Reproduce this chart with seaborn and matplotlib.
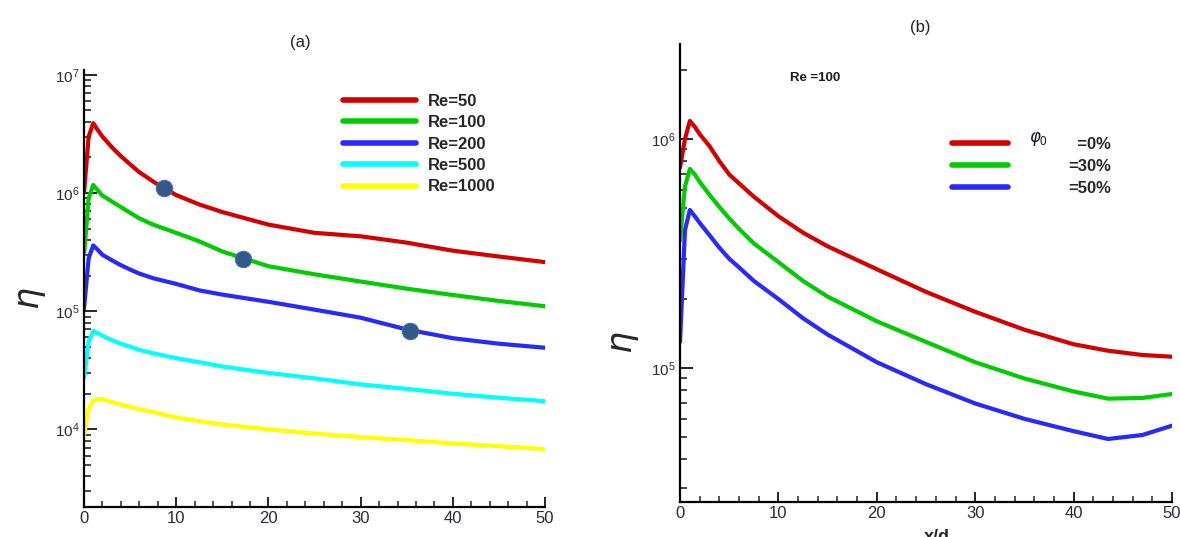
import numpy as np
import pandas as pd
import matplotlib
matplotlib.use("Agg")
import matplotlib.pyplot as plt
from matplotlib.ticker import LogLocator, MultipleLocator, NullFormatter
from matplotlib.lines import Line2D
import seaborn as sns

# ---------------- data: panel (a), effect of Reynolds number ----------------
x_a = [0, 0.5, 1, 1.5, 2, 3, 4, 5, 6, 7.5, 10, 12.5, 15, 20, 25, 30, 35, 40, 45, 50]
eta_re50 = [1.0e6, 3.0e6, 3.9e6, 3.4e6, 3.0e6, 2.45e6, 2.05e6, 1.75e6, 1.5e6, 1.25e6,
            9.6e5, 8.0e5, 6.9e5, 5.4e5, 4.6e5, 4.3e5, 3.8e5, 3.25e5, 2.9e5, 2.6e5]
eta_re100 = [3.0e5, 9.0e5, 1.17e6, 1.05e6, 9.5e5, 8.5e5, 7.6e5, 6.8e5, 6.1e5, 5.4e5,
             4.6e5, 3.9e5, 3.2e5, 2.4e5, 2.05e5, 1.78e5, 1.55e5, 1.37e5, 1.22e5, 1.1e5]
eta_re200 = [1.05e5, 2.8e5, 3.6e5, 3.3e5, 3.0e5, 2.7e5, 2.45e5, 2.25e5, 2.08e5, 1.9e5,
             1.7e5, 1.5e5, 1.38e5, 1.2e5, 1.03e5, 8.8e4, 7.0e4, 5.9e4, 5.3e4, 4.9e4]
eta_re500 = [2.7e4, 5.5e4, 6.8e4, 6.5e4, 6.2e4, 5.7e4, 5.3e4, 5.0e4, 4.7e4, 4.4e4,
             4.0e4, 3.7e4, 3.4e4, 3.0e4, 2.7e4, 2.4e4, 2.2e4, 2.0e4, 1.85e4, 1.73e4]
eta_re1000 = [9.0e3, 1.5e4, 1.75e4, 1.8e4, 1.8e4, 1.7e4, 1.62e4, 1.55e4, 1.48e4, 1.4e4,
              1.26e4, 1.17e4, 1.1e4, 1.0e4, 9.2e3, 8.6e3, 8.1e3, 7.6e3, 7.2e3, 6.8e3]
re_labels = ["Re=50", "Re=100", "Re=200", "Re=500", "Re=1000"]

# highlighted points on the Re=50, 100 and 200 curves
mark_x = [8.7, 17.2, 35.3]
mark_eta = [1.1e6, 2.75e5, 6.8e4]

# ---------------- data: panel (b), Re = 100, effect of phi_0 ----------------
x_b = [0, 0.5, 1, 1.5, 2, 3, 4, 5, 6, 7.5, 10, 12.5, 15, 20, 25, 30, 35, 40, 43.5, 47, 50]
eta_phi0 = [7.5e5, 1.0e6, 1.2e6, 1.13e6, 1.05e6, 9.3e5, 8.0e5, 7.0e5, 6.4e5, 5.6e5,
            4.6e5, 3.9e5, 3.4e5, 2.7e5, 2.15e5, 1.76e5, 1.47e5, 1.27e5, 1.19e5, 1.14e5, 1.12e5]
eta_phi30 = [3.6e5, 6.2e5, 7.4e5, 7.0e5, 6.5e5, 5.7e5, 5.05e5, 4.5e5, 4.05e5, 3.5e5,
             2.9e5, 2.4e5, 2.05e5, 1.6e5, 1.3e5, 1.06e5, 9.0e4, 7.9e4, 7.35e4, 7.4e4, 7.7e4]
eta_phi50 = [1.3e5, 4.0e5, 4.9e5, 4.6e5, 4.3e5, 3.8e5, 3.35e5, 3.0e5, 2.75e5, 2.4e5,
             2.0e5, 1.65e5, 1.4e5, 1.06e5, 8.5e4, 7.0e4, 6.0e4, 5.3e4, 4.9e4, 5.1e4, 5.6e4]
phi_labels = ["\u2007=0%", "=30%", "=50%"]

x_ticks = [0, 10, 20, 30, 40, 50]

# ---------------- style ----------------
sns.set_style("ticks")
plt.rcParams["font.family"] = ["Liberation Sans", "DejaVu Sans"]
plt.rcParams["mathtext.fontset"] = "custom"
plt.rcParams["mathtext.rm"] = "Liberation Sans"
plt.rcParams["mathtext.it"] = "DejaVu Sans:italic"

colors_a = ["#d40000", "#00cc00", "#2828ff", "#00ffff", "#ffff00"]
colors_b = ["#d40000", "#00cc00", "#2828ff"]
tick_col = "#2a2a3a"
LW = 3.0

fig = plt.figure(figsize=(11.8, 5.37), dpi=100)
ax_a = fig.add_axes([0.0712, 0.0559, 0.3907, 0.8138])
ax_b = fig.add_axes([0.5763, 0.0652, 0.4169, 0.8529])


def style_axes(ax):
    ax.set_yscale("log")
    ax.set_xlim(0, 50)
    for s in ("top", "right"):
        ax.spines[s].set_visible(False)
    for s in ("left", "bottom"):
        ax.spines[s].set_linewidth(1.6)
        ax.spines[s].set_color("black")
    ax.xaxis.set_major_locator(MultipleLocator(10))
    ax.xaxis.set_minor_locator(MultipleLocator(2))
    ax.set_xticks(x_ticks)
    ax.yaxis.set_major_locator(LogLocator(base=10))
    ax.yaxis.set_minor_locator(LogLocator(base=10, subs=np.arange(2, 10)))
    ax.yaxis.set_minor_formatter(NullFormatter())
    ax.tick_params(axis="y", which="major", direction="in", length=9, width=1.4,
                   labelsize=11, labelcolor=tick_col, pad=3)
    ax.tick_params(axis="y", which="minor", direction="in", length=5, width=1.2)
    ax.tick_params(axis="x", which="major", direction="in", length=7.5, width=1.4,
                   labelsize=12, labelcolor=tick_col, pad=3)
    ax.tick_params(axis="x", which="minor", direction="in", length=4, width=1.1)


# ---------------- panel (a) ----------------
df_a = pd.DataFrame({
    "x": x_a * 5,
    "eta": eta_re50 + eta_re100 + eta_re200 + eta_re500 + eta_re1000,
    "case": sum([[lab] * len(x_a) for lab in re_labels], []),
})
sns.lineplot(data=df_a, x="x", y="eta", hue="case", hue_order=re_labels,
             palette=colors_a, linewidth=LW, ax=ax_a, legend=False,
             estimator=None, sort=False)
sns.scatterplot(x=mark_x, y=mark_eta, ax=ax_a, s=140, color="#33598a",
                edgecolor="#4a70a0", linewidth=0.8, zorder=5)
style_axes(ax_a)
ax_a.set_ylim(2.2e3, 1.1e7)

handles_a = [Line2D([], [], color=c, lw=4) for c in colors_a]
leg_a = ax_a.legend(handles_a, re_labels, loc="upper left", frameon=False,
                    bbox_to_anchor=(343 / 1180, 1 - 94 / 537),
                    bbox_transform=fig.transFigure,
                    handlelength=4.4, handletextpad=0.7, labelspacing=0.38,
                    borderpad=0, borderaxespad=0,
                    prop={"weight": "bold", "size": 12})
ax_a.set_xlabel("x/d", fontsize=13, fontweight="bold")
ax_a.xaxis.set_label_coords(0.5, -0.07)
ax_a.set_ylabel(r"$\eta$", fontsize=25)
ax_a.yaxis.set_label_coords(-0.078, 0.476)

# ---------------- panel (b) ----------------
df_b = pd.DataFrame({
    "x": x_b * 3,
    "eta": eta_phi0 + eta_phi30 + eta_phi50,
    "case": sum([[lab] * len(x_b) for lab in phi_labels], []),
})
sns.lineplot(data=df_b, x="x", y="eta", hue="case", hue_order=phi_labels,
             palette=colors_b, linewidth=LW, ax=ax_b, legend=False,
             estimator=None, sort=False)
style_axes(ax_b)
ax_b.set_ylim(2.6e4, 2.6e6)

handles_b = [Line2D([], [], color=c, lw=4) for c in colors_b]
leg_b = ax_b.legend(handles_b, phi_labels, loc="upper left", frameon=False,
                    bbox_to_anchor=(952 / 1180, 1 - 137 / 537),
                    bbox_transform=fig.transFigure,
                    handlelength=3.35, handletextpad=3.6, labelspacing=0.42,
                    borderpad=0, borderaxespad=0,
                    prop={"weight": "bold", "size": 12})
ax_b.text(0.728, 0.792, r"$\varphi_0$", transform=ax_b.transAxes,
          fontsize=12, ha="center", va="center", color="#1a1a2a")
ax_b.text(0.274, 0.926, "Re =100", transform=ax_b.transAxes,
          fontsize=9.5, fontweight="bold", ha="center", va="center", color="#1a1a2a")
ax_b.set_xlabel("x/d", fontsize=13, fontweight="bold")
ax_b.xaxis.set_label_coords(0.522, -0.058)
ax_b.set_ylabel(r"$\eta$", fontsize=25)
ax_b.yaxis.set_label_coords(-0.079, 0.347)

# panel titles
fig.text(300 / 1180, 1 - 43 / 537, "(a)", fontsize=12, ha="center", va="center",
         color="#222222")
fig.text(920 / 1180, 1 - 28 / 537, "(b)", fontsize=12, ha="center", va="center",
         color="#222222")

fig.savefig("out.png", dpi=100)
